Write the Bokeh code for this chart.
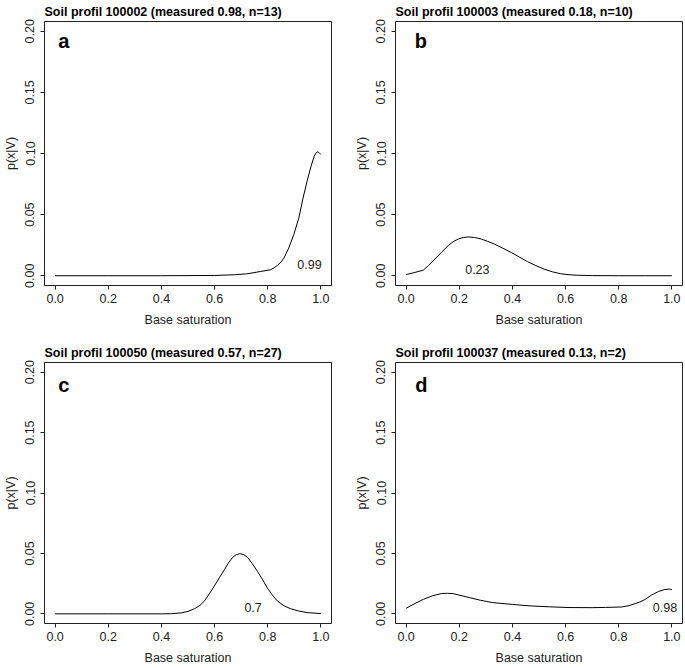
from bokeh.plotting import figure
from bokeh.layouts import column, row
from bokeh.models import Range1d, FixedTicker
from bokeh.core.properties import value
from bokeh.embed import file_html
from bokeh.resources import INLINE

# ---- data ----
titles = [
    "Soil profil 100002 (measured 0.98, n=13)",
    "Soil profil 100003 (measured 0.18, n=10)",
    "Soil profil 100050 (measured 0.57, n=27)",
    "Soil profil 100037 (measured 0.13, n=2)",
]
panel_letters = ["a", "b", "c", "d"]
letter_x = [0.033, 0.055, 0.033, 0.057]
letter_y = [0.192, 0.192, 0.189, 0.189]
peak_labels = ["0.99", "0.23", "0.7", "0.98"]
peak_label_x = [0.957, 0.268, 0.745, 0.974]
peak_label_y = [0.009, 0.005, 0.0052, 0.0052]

x_a = [0.0, 0.2, 0.4, 0.6, 0.674, 0.72, 0.745, 0.7735, 0.79, 0.811, 0.824, 0.836, 0.849,
       0.861, 0.879, 0.898, 0.917, 0.933, 0.948, 0.963, 0.975, 0.981, 0.987, 0.993, 1.0]
y_a = [0.0, 0.0, 0.0, 0.0002, 0.0008, 0.0015, 0.0024, 0.0035, 0.0041, 0.0049, 0.0064, 0.0084,
       0.0110, 0.0144, 0.0226, 0.0336, 0.0472, 0.0636, 0.0773, 0.0896, 0.0978, 0.1002, 0.1013,
       0.1008, 0.0992]

x_b = [0.0, 0.03, 0.065, 0.085, 0.108, 0.133, 0.158, 0.178, 0.196, 0.215, 0.233, 0.258,
       0.283, 0.307, 0.332, 0.363, 0.395, 0.426, 0.457, 0.488, 0.519, 0.55, 0.582, 0.613,
       0.644, 0.70, 0.8, 0.9, 1.0]
y_b = [0.001, 0.0025, 0.0046, 0.0085, 0.0136, 0.0192, 0.0246, 0.0280, 0.0300, 0.0313, 0.0317,
       0.0313, 0.0300, 0.0281, 0.0259, 0.0226, 0.0191, 0.0153, 0.0115, 0.0083, 0.0054, 0.0032,
       0.0016, 0.0008, 0.0004, 0.0001, 0.0, 0.0, 0.0]

x_c = [0.0, 0.2, 0.4, 0.438, 0.475, 0.5, 0.525, 0.545, 0.562, 0.58, 0.599, 0.618, 0.637,
       0.652, 0.668, 0.682, 0.696, 0.71, 0.724, 0.742, 0.761, 0.78, 0.798, 0.817, 0.836,
       0.86, 0.885, 0.915, 0.948, 1.0]
y_c = [0.0, 0.0, 0.0, 0.0001, 0.0008, 0.0020, 0.0043, 0.0070, 0.0107, 0.0165, 0.0230, 0.0298,
       0.0366, 0.0420, 0.0468, 0.0490, 0.0498, 0.0490, 0.0468, 0.0415, 0.0353, 0.0285, 0.0216,
       0.0157, 0.0107, 0.0068, 0.0043, 0.0024, 0.0010, 0.0002]

x_d = [0.0, 0.03, 0.065, 0.10, 0.133, 0.155, 0.177, 0.239, 0.28, 0.326, 0.4, 0.463, 0.54,
       0.613, 0.70, 0.75, 0.812, 0.84, 0.862, 0.88, 0.9, 0.924, 0.95, 0.974, 0.99, 1.0]
y_d = [0.0046, 0.0082, 0.0120, 0.0150, 0.0168, 0.0170, 0.0167, 0.0134, 0.0112, 0.0093, 0.0078,
       0.0066, 0.0058, 0.0052, 0.0051, 0.0053, 0.0057, 0.0068, 0.0085, 0.0098, 0.0120, 0.0156,
       0.0185, 0.0202, 0.0205, 0.0200]

series_x = [x_a, x_b, x_c, x_d]
series_y = [y_a, y_b, y_c, y_d]

x_ticks = [0.0, 0.2, 0.4, 0.6, 0.8, 1.0]
x_tick_labels = ["0.0", "0.2", "0.4", "0.6", "0.8", "1.0"]
y_ticks = [0.0, 0.05, 0.1, 0.15, 0.2]
y_tick_labels = ["0.00", "0.05", "0.10", "0.15", "0.20"]

x_label = "Base saturation"
y_label = "p(x|V)"

FONT = "Liberation Sans"
FS = "12.5px"
INK = "#222222"


def make_panel(i, width, height, b_left, b_right, b_top, b_bottom):
    p = figure(
        width=width, height=height,
        x_range=Range1d(-0.04, 1.04), y_range=Range1d(-0.008, 0.208),
        output_backend="svg", toolbar_location=None,
        min_border_left=b_left, min_border_right=b_right,
        min_border_top=b_top, min_border_bottom=b_bottom,
        title=titles[i],
    )
    p.background_fill_color = "white"
    p.border_fill_color = "white"
    p.outline_line_color = INK
    p.outline_line_width = 1
    p.grid.visible = False

    p.title.text_font = FONT
    p.title.text_font_size = FS
    p.title.text_font_style = "bold"
    p.title.text_color = "black"
    p.title.align = "left"
    p.title.offset = 0
    p.title.standoff = 5

    for ax in (p.xaxis[0], p.yaxis[0]):
        ax.axis_line_color = None
        ax.major_tick_line_color = INK
        ax.major_tick_out = 4
        ax.major_tick_in = 0
        ax.minor_tick_out = 0
        ax.minor_tick_in = 0
        ax.major_label_text_font = FONT
        ax.major_label_text_font_size = FS
        ax.major_label_text_color = INK
        ax.axis_label_text_font = FONT
        ax.axis_label_text_font_size = FS
        ax.axis_label_text_font_style = "normal"
        ax.axis_label_text_color = INK

    p.xaxis.ticker = FixedTicker(ticks=x_ticks)
    p.xaxis.major_label_overrides = dict(zip(x_ticks, x_tick_labels))
    p.xaxis.axis_label = x_label
    p.xaxis.major_label_standoff = 4
    p.xaxis.axis_label_standoff = 7

    p.yaxis.ticker = FixedTicker(ticks=y_ticks)
    p.yaxis.major_label_overrides = dict(zip(y_ticks, y_tick_labels))
    p.yaxis.axis_label = y_label
    p.yaxis.major_label_orientation = "parallel"
    p.yaxis.major_label_standoff = 6
    p.yaxis.axis_label_standoff = 5

    p.line(series_x[i], series_y[i], line_color="black", line_width=1)

    p.text(x=[letter_x[i]], y=[letter_y[i]], text=[panel_letters[i]],
           text_font=value(FONT), text_font_size=value("20px"), text_font_style="bold",
           text_align="center", text_baseline="alphabetic", text_color="black")
    p.text(x=[peak_label_x[i]], y=[peak_label_y[i]], text=[peak_labels[i]],
           text_font=value(FONT), text_font_size=value(FS),
           text_align="center", text_baseline="middle", text_color=INK)
    return p


# frames: 288 wide; row 1 is 265 tall, row 2 is 263 tall
pa = make_panel(0, 351, 341, 43, 20, 20, 56)
pb = make_panel(1, 333, 341, 43, 2, 20, 56)
pc = make_panel(2, 351, 326, 43, 20, 20, 43)
pd = make_panel(3, 333, 326, 43, 2, 20, 43)

layout = column(row(pa, pb), row(pc, pd))

with open("out.html", "w") as f:
    f.write(file_html(layout, INLINE))
